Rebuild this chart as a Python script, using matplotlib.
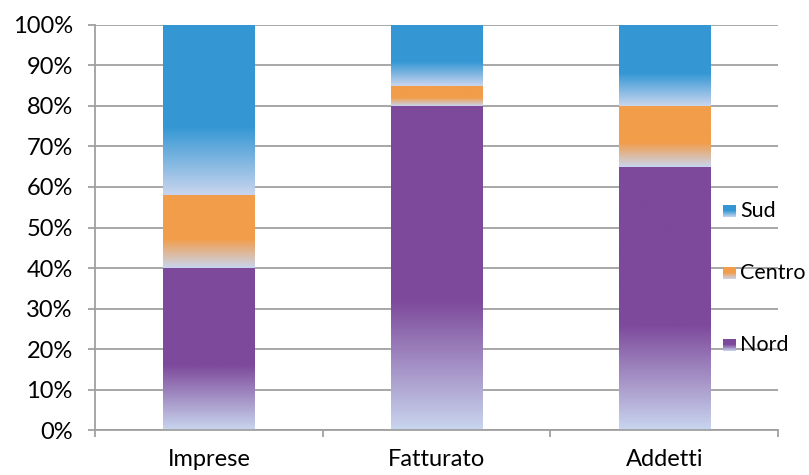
import matplotlib
matplotlib.use("Agg")
import matplotlib.pyplot as plt
import numpy as np

categories = ["Imprese", "Fatturato", "Addetti"]
series = ["Nord", "Centro", "Sud"]
nord = [40, 80, 65]
centro = [18, 5, 15]
sud = [42, 15, 20]

colors = {"Nord": (125, 73, 155), "Centro": (242, 157, 74), "Sud": (52, 151, 212)}
light = (201, 213, 238)

plt.rcParams['font.family'] = ['Lato', 'DejaVu Sans']


# vertical gradient: light at the bottom, solid from ~40% of the height upwards
def gradient(rgb, n=200, fade=0.4):
    t = np.linspace(0, 1, n)
    k = np.clip(t / fade, 0, 1)
    c0 = np.array(light) / 255
    c1 = np.array(rgb) / 255
    g = c0[None, :] + (c1 - c0)[None, :] * k[:, None]
    return g[:, None, :]


fig = plt.figure(figsize=(8.09, 4.75), dpi=100)
ax = fig.add_axes([0.1174, 0.0947, 0.8443, 0.8527])

x = np.arange(len(categories))
width = 0.40
bottom = np.zeros(len(categories))
for name, vals in zip(series, [nord, centro, sud]):
    bars = ax.bar(x, vals, width, bottom=bottom, color='none', edgecolor='none', zorder=2)
    for p in bars:
        x0, y0 = p.get_x(), p.get_y()
        ax.imshow(gradient(colors[name]), extent=(x0, x0 + p.get_width(), y0, y0 + p.get_height()),
                  origin='lower', aspect='auto', interpolation='bilinear', zorder=2)
    bottom += np.array(vals)

ax.set_xlim(-0.5, 2.5)
ax.set_ylim(0, 100)
ax.set_yticks(range(0, 101, 10))
ax.set_yticklabels([f"{v}%" for v in range(0, 101, 10)])
ax.set_xticks(x)
ax.set_xticklabels(categories)
ax.set_xticks([-0.5, 0.5, 1.5, 2.5], minor=True)

gc = '#a0a0a0'
ax.yaxis.grid(True, color=gc, linewidth=1.3, zorder=1)
ax.set_axisbelow(True)
for s in ['top', 'right']:
    ax.spines[s].set_visible(False)
for s in ['left', 'bottom']:
    ax.spines[s].set_color(gc)
    ax.spines[s].set_linewidth(1.3)
ax.tick_params(axis='y', length=5, width=1.3, color=gc, pad=11, labelsize=17)
ax.tick_params(axis='x', which='major', length=0, pad=14, labelsize=17)
ax.tick_params(axis='x', which='minor', length=5, width=1.3, color=gc)

# legend drawn by hand: gradient swatch + label
leg_y = [0.556, 0.425, 0.274]
for name, ly in zip(["Sud", "Centro", "Nord"], leg_y):
    sw = fig.add_axes([0.8937, ly - 0.013, 0.0155, 0.026])
    sw.imshow(gradient(colors[name], fade=0.5), origin='lower', aspect='auto', interpolation='bilinear')
    sw.axis('off')
    fig.text(0.915, ly, name, fontsize=15.5, va='center', ha='left')

fig.savefig("out.png", dpi=100)
